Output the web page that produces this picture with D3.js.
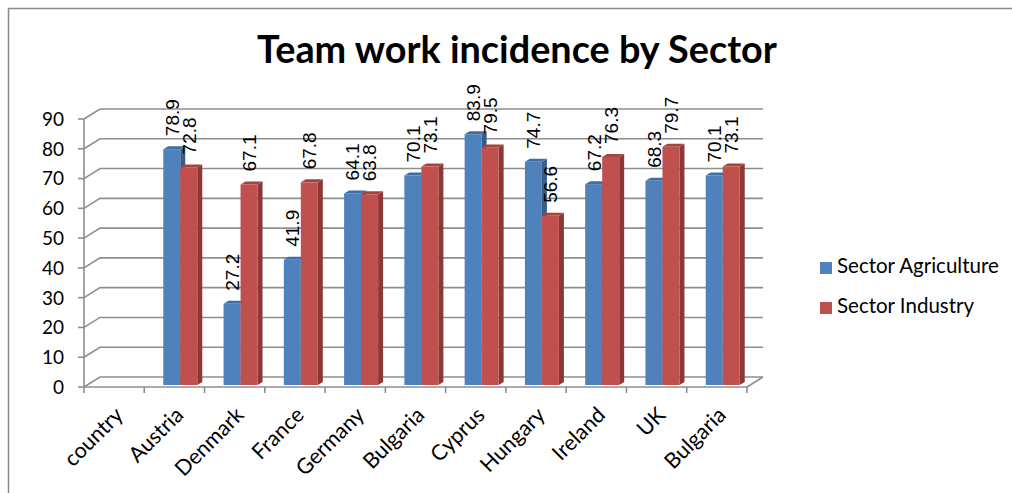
<!DOCTYPE html>
<html><head><meta charset="utf-8">
<script src="https://cdn.jsdelivr.net/npm/d3@7"></script>
<style>body{margin:0;background:#fff;overflow:hidden}</style>
</head><body>
<svg id="c" width="1012" height="493"></svg>
<script>
const categories = ["country","Austria","Denmark","France","Germany","Bulgaria","Cyprus","Hungary","Ireland","UK","Bulgaria"];
const agriculture = [null,78.9,27.2,41.9,64.1,70.1,83.9,74.7,67.2,68.3,70.1];
const industry = [null,72.8,67.1,67.8,63.8,73.1,79.5,56.6,76.3,79.7,73.1];
const seriesNames = ["Sector Agriculture","Sector Industry"];
const yTicks = [0,10,20,30,40,50,60,70,80,90];
const title = "Team work incidence by Sector";

const colors = [
  {front:"#4f81bd", side:"#385d8a", top:"#3f6ea6"},
  {front:"#c0504d", side:"#8c3836", top:"#a6423f"}
];
const grid = "#8e8e8e";
const svg = d3.select("#c");

// frame
svg.append("rect").attr("x",8.5).attr("y",8.5).attr("width",1200).attr("height",700)
  .attr("fill","#fff").attr("stroke","#8a8a8a").attr("stroke-width",1.5);

// geometry
const left = 84, right = 747, depthX = 16, depthY = 10;
const yFront = d3.scaleLinear().domain([0,90]).range([387,119]);
const yBar = d3.scaleLinear().domain([0,90]).range([385,116]);
const x = d3.scaleBand().domain(d3.range(categories.length)).range([left,right]).padding(0);
const bw = x.bandwidth();

function fit(sel, target){
  const n = sel.node();
  const fs = parseFloat(sel.attr("font-size"));
  const w = n.getComputedTextLength();
  sel.attr("font-size", fs*target/w);
}

// title
const t = svg.append("text").attr("x",517).attr("y",63).attr("text-anchor","middle")
  .attr("font-family","Lato").attr("font-weight","bold").attr("font-size",36).attr("fill","#000").text(title);
fit(t,520);

// gridlines (back wall + side diagonals)
const g = svg.append("g").attr("fill","none").attr("stroke",grid).attr("stroke-width",1.6);
yTicks.forEach(v=>{
  const yf = yFront(v), yb = yf - depthY;
  g.append("path").attr("d",`M${left},${yf}L${left+depthX},${yb}L${right+depthX},${yb}`);
});
// floor right edge
g.append("path").attr("d",`M${right},${yFront(0)}L${right+depthX},${yFront(0)-depthY}`);
// y axis
g.append("path").attr("d",`M${left},${yFront(90)}L${left},${yFront(0)}`);
yTicks.forEach(v=>{ g.append("path").attr("d",`M${left-6},${yFront(v)}L${left},${yFront(v)}`); });
// x axis
g.append("path").attr("d",`M${left},${yFront(0)}L${right},${yFront(0)}`);
d3.range(categories.length+1).forEach(i=>{
  const xx = i<categories.length ? x(i) : right;
  g.append("path").attr("d",`M${xx},${yFront(0)}L${xx},${yFront(0)+6}`);
});

// y tick labels
svg.append("g").selectAll("text").data(yTicks).join("text")
  .attr("x",64).attr("y",d=>yFront(d)).attr("dy","0.36em").attr("text-anchor","end")
  .attr("font-family","Lato").attr("font-size",19).attr("fill","#000").text(d=>d);

// category labels
svg.append("g").selectAll("text").data(categories).join("text")
  .attr("transform",(d,i)=>`translate(${x(i)+bw/2+5},411) rotate(-45)`)
  .attr("dy","0.35em").attr("text-anchor","end")
  .attr("font-family","Lato").attr("font-size",21.5).attr("fill","#000").text(d=>d);

// bars
const barW = 17, barOff = 19, dx = 5, dy = 3;
const bars = svg.append("g");
const labels = svg.append("g");
categories.forEach((c,i)=>{
  [agriculture[i], industry[i]].forEach((v,s)=>{
    if(v==null) return;
    const x0 = x(i) + barOff + s*barW, y0 = yBar(0), yt = yBar(v), col = colors[s];
    bars.append("path").attr("fill",col.side)
      .attr("d",`M${x0+barW},${yt}L${x0+barW+dx},${yt-dy}L${x0+barW+dx},${y0-dy}L${x0+barW},${y0}Z`);
    bars.append("path").attr("fill",col.top)
      .attr("d",`M${x0},${yt}L${x0+dx},${yt-dy}L${x0+barW+dx},${yt-dy}L${x0+barW},${yt}Z`);
    bars.append("rect").attr("fill",col.front).attr("x",x0).attr("y",yt).attr("width",barW).attr("height",y0-yt);
    labels.append("text").attr("transform",`translate(${x0+barW/2},${yt-13}) rotate(-90)`)
      .attr("dy","0.36em").attr("text-anchor","start")
      .attr("font-family","Liberation Sans").attr("font-size",19).attr("fill","#000").text(v.toFixed(1));
  });
});

// legend
const leg = svg.append("g");
const legY = [273, 313];
seriesNames.forEach((n,s)=>{
  leg.append("rect").attr("x",820).attr("y",legY[s]-11).attr("width",12).attr("height",12).attr("fill",colors[s].front);
  leg.append("text").attr("x",837).attr("y",legY[s]).attr("font-family","Lato").attr("font-size",20.5)
    .attr("fill","#000").text(n);
});
</script>
</body></html>
